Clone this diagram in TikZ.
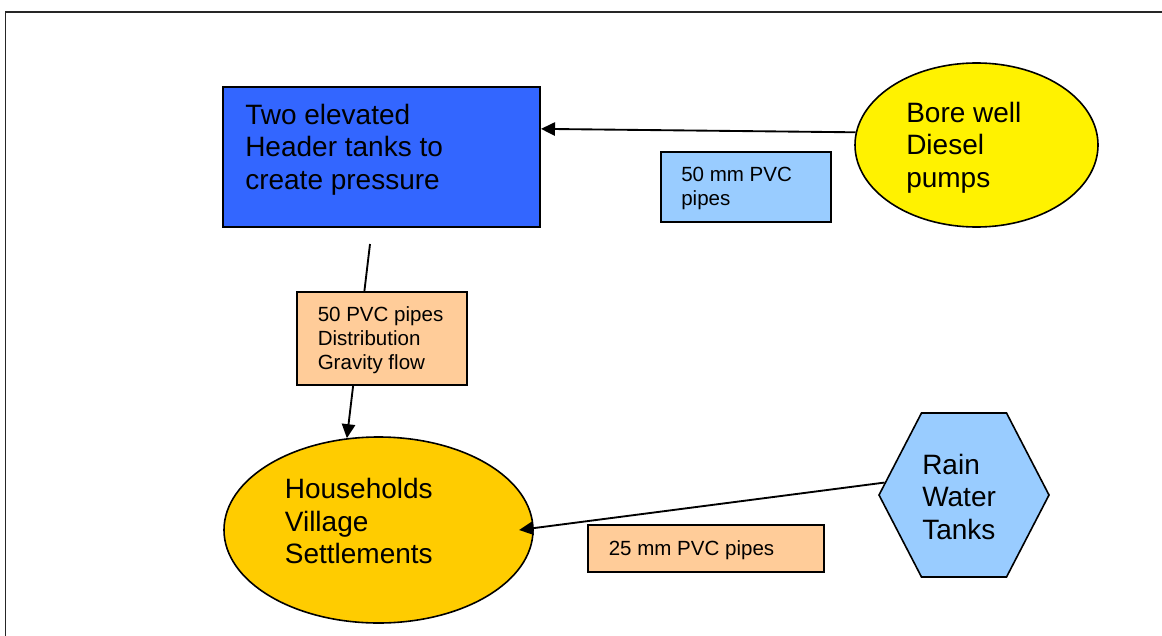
\documentclass[tikz,border=0pt]{standalone}
\usepackage{fontspec}
\setmainfont{Liberation Sans}
\usetikzlibrary{arrows.meta,shapes.geometric}
\definecolor{tankblue}{RGB}{51,102,255}
\definecolor{pipeblue}{RGB}{153,204,255}
\definecolor{pipepeach}{RGB}{255,204,153}
\definecolor{homegold}{RGB}{255,204,0}
\newcommand{\bigtext}{\fontsize{21}{24.4}\selectfont}
\newcommand{\smalltext}{\fontsize{15.4}{18}\selectfont}

\begin{document}
\begin{tikzpicture}[x=0.75pt,y=-0.75pt,color=black,
  box/.style={draw,line width=1.5pt,inner sep=0pt},
  blob/.style={draw,line width=1.2pt,inner sep=0pt,ellipse},
  pipe/.style={line width=1.4pt,-{Triangle[length=10.5pt,width=10pt]}},
  bigtxt/.style={anchor=north west,inner sep=0pt,align=left,font=\bigtext},
  smalltxt/.style={anchor=north west,inner sep=0pt,align=left,font=\smalltext}]
\useasboundingbox (0,0) rectangle (1162,635);
\clip (0,0) rectangle (1162,635);
\draw[line width=1.3pt,black!85] (5.5,700) -- (5.5,12) -- (1200,12);

\node(header) [box,fill=tankblue,minimum width=237.75pt,minimum height=105pt] at (381.5,157) {};
\node(bore) [blob,fill=yellow,minimum width=182.25pt,minimum height=123pt] at (976.5,145) {};
\node(homes) [blob,fill=homegold,minimum width=231.75pt,minimum height=139.5pt] at (378.5,530) {};
\node(rain) [draw,line width=1.2pt,fill=pipeblue,regular polygon,regular polygon sides=6,
  inner sep=0pt,minimum size=127.5pt,yscale=1.114,transform shape] at (964,495) {};

\coordinate(drop) at (370,244);
\draw[pipe] (bore.174) -- (header.10);
\draw[pipe] (drop) -- (homes.109);
\draw[pipe] (rain.172) -- ([xshift=-11pt]homes.east);

\node(pipeA) [box,fill=pipeblue,minimum width=127.5pt,minimum height=52.5pt] at (746,186.7) {};
\node(pipeB) [box,fill=pipepeach,minimum width=127.9pt,minimum height=69.75pt] at (382,338) {};
\node(pipeC) [box,fill=pipepeach,minimum width=177pt,minimum height=35.25pt] at (706,548.5) {};

\node(headertext) [bigtxt] at (245,103.5) {Two elevated\\Header tanks to\\create pressure};
\node(boretext) [bigtxt] at (906,101.5) {Bore well\\Diesel\\pumps};
\node(homestext) [bigtxt] at (284.6,478) {Households\\Village\\Settlements};
\node(raintext) [bigtxt] at (922,453.5) {Rain\\Water\\Tanks};
\node(pipeAtext) [smalltxt] at (681,166.7) {50 mm PVC\\pipes};
\node(pipeBtext) [smalltxt] at (317.5,306.7) {50 PVC pipes\\Distribution\\Gravity flow};
\node(pipeCtext) [smalltxt] at (608.5,540) {25 mm PVC pipes};
\end{tikzpicture}
\end{document}
